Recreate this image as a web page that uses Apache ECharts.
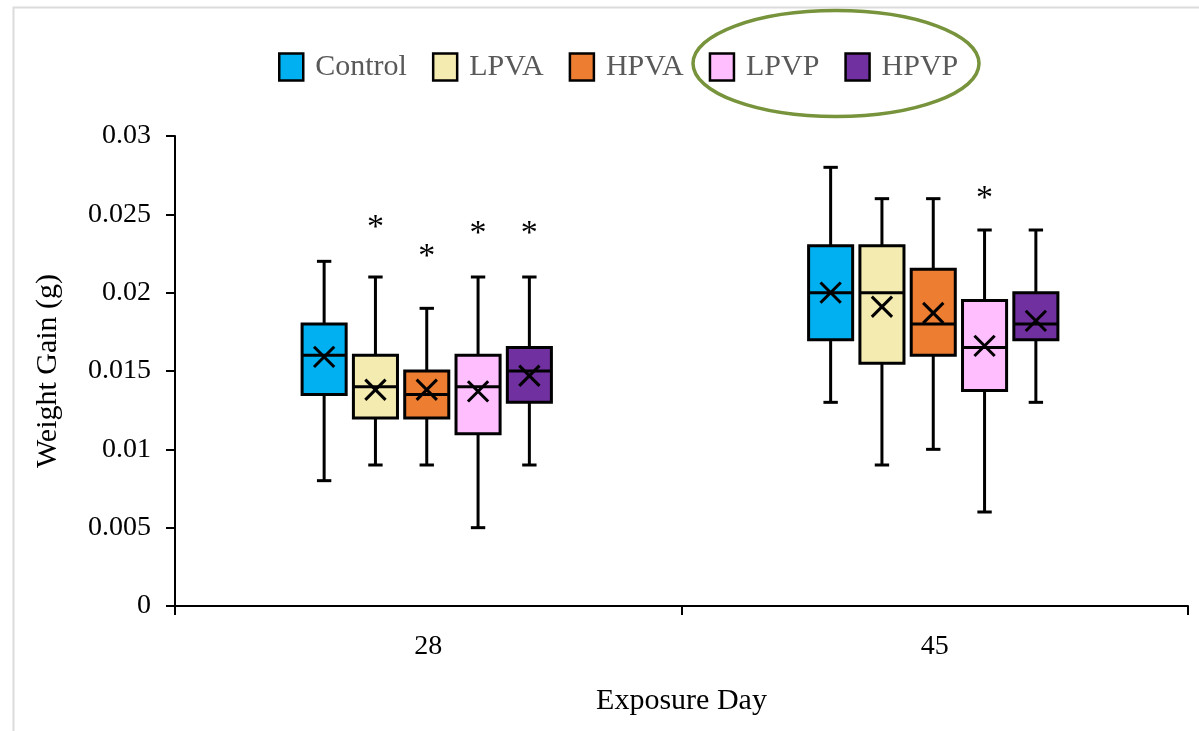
<!DOCTYPE html>
<html>
<head>
<meta charset="utf-8">
<script src="https://cdn.jsdelivr.net/npm/echarts@6/dist/echarts.min.js"></script>
<style>
html,body{margin:0;padding:0;background:#fff;}
#chart{width:1199px;height:731px;}
</style>
</head>
<body>
<div id="chart"></div>
<script>
// ---- data ----
const categories = ['28', '45'];
const seriesNames = ['Control', 'LPVA', 'HPVA', 'LPVP', 'HPVP'];
// [min, Q1, median, Q3, max] for day 28 and day 45
const controlBox = [[0.008, 0.0135, 0.016, 0.018, 0.022], [0.013, 0.017, 0.020, 0.023, 0.028]];
const lpvaBox    = [[0.009, 0.012, 0.014, 0.016, 0.021], [0.009, 0.0155, 0.020, 0.023, 0.026]];
const hpvaBox    = [[0.009, 0.012, 0.0135, 0.015, 0.019], [0.010, 0.016, 0.018, 0.0215, 0.026]];
const lpvpBox    = [[0.005, 0.011, 0.014, 0.016, 0.021], [0.006, 0.01375, 0.0165, 0.0195, 0.024]];
const hpvpBox    = [[0.009, 0.013, 0.015, 0.0165, 0.021], [0.013, 0.017, 0.018, 0.020, 0.024]];
// means (x markers)
const controlMean = [0.0159, 0.0200];
const lpvaMean    = [0.0138, 0.0191];
const hpvaMean    = [0.0138, 0.0187];
const lpvpMean    = [0.0137, 0.0166];
const hpvpMean    = [0.0147, 0.0182];
// significance asterisks (null = none)
const controlStar = [null, null];
const lpvaStar    = [0.0246, null];
const hpvaStar    = [0.0227, null];
const lpvpStar    = [0.0242, 0.0264];
const hpvpStar    = [0.0242, null];
// y axis
const yMin = 0, yMax = 0.03, yStep = 0.005;

const boxes = [controlBox, lpvaBox, hpvaBox, lpvpBox, hpvpBox];
const means = [controlMean, lpvaMean, hpvaMean, lpvpMean, hpvpMean];
const stars = [controlStar, lpvaStar, hpvaStar, lpvpStar, hpvpStar];
const colors = ['#00B0F0', '#F4EBB0', '#ED7D31', '#FFBFFF', '#7030A0'];

const FONT = '"Liberation Serif", "Times New Roman", serif';

function makeRender(s) {
  return function (params, api) {
    const ci = api.value(0);
    const band = api.size([1, 0])[0];
    const cx = api.coord([ci, 0])[0] + (s - 2) * band * 0.1013 - 1.5;
    const half = band * 0.0435;
    const cap = band * 0.0142;
    const mk = band * 0.02;
    const y = v => api.coord([ci, v])[1];
    const yMinP = y(api.value(1)), yQ1 = y(api.value(2)), yMed = y(api.value(3)),
          yQ3 = y(api.value(4)), yMaxP = y(api.value(5)), yMean = y(api.value(6));
    const ls = { stroke: '#000', lineWidth: 3, fill: null };
    const children = [
      { type: 'line', shape: { x1: cx, y1: yMaxP, x2: cx, y2: yQ3 }, style: ls },
      { type: 'line', shape: { x1: cx, y1: yQ1, x2: cx, y2: yMinP }, style: ls },
      { type: 'line', shape: { x1: cx - cap, y1: yMaxP, x2: cx + cap, y2: yMaxP }, style: ls },
      { type: 'line', shape: { x1: cx - cap, y1: yMinP, x2: cx + cap, y2: yMinP }, style: ls },
      { type: 'rect', shape: { x: cx - half, y: yQ3, width: half * 2, height: yQ1 - yQ3 },
        style: { fill: colors[s], stroke: '#000', lineWidth: 3 } },
      { type: 'line', shape: { x1: cx - half, y1: yMed, x2: cx + half, y2: yMed }, style: ls },
      { type: 'line', shape: { x1: cx - mk, y1: yMean - mk, x2: cx + mk, y2: yMean + mk }, style: ls },
      { type: 'line', shape: { x1: cx - mk, y1: yMean + mk, x2: cx + mk, y2: yMean - mk }, style: ls }
    ];
    const sv = stars[s][params.dataIndex];
    if (sv != null) {
      children.push({
        type: 'text',
        style: { text: '*', x: cx, y: y(sv) + 7, align: 'center', verticalAlign: 'middle',
                 fill: '#000', font: '34px ' + FONT }
      });
    }
    return { type: 'group', children: children };
  };
}

const series = seriesNames.map((name, s) => ({
  name: name,
  type: 'custom',
  xAxisIndex: 0,
  yAxisIndex: 0,
  itemStyle: { color: colors[s], borderColor: '#000', borderWidth: 2 },
  encode: { x: 0, y: [1, 2, 3, 4, 5, 6] },
  renderItem: makeRender(s),
  data: categories.map((c, i) => [i].concat(boxes[s][i], [means[s][i]])),
  z: 2
}));

const chart = echarts.init(document.getElementById('chart'), null, { renderer: 'canvas' });
chart.setOption({
  animation: false,
  backgroundColor: '#fff',
  textStyle: { fontFamily: FONT },
  graphic: [
    { type: 'rect', left: 11, top: 5, shape: { x: 0, y: 0, width: 1400, height: 900 },
      style: { fill: null, stroke: '#dcdcdc', lineWidth: 2 }, silent: true, z: -10 },
    { type: 'ellipse', shape: { cx: 836, cy: 63.5, rx: 143, ry: 53 },
      style: { fill: null, stroke: '#77933C', lineWidth: 3.5 }, silent: true, z: 10 }
  ],
  legend: {
    data: seriesNames,
    left: 273,
    top: 47,
    icon: 'rect',
    itemWidth: 24,
    itemHeight: 27,
    itemGap: 25,
    itemStyle: { borderColor: '#000', borderWidth: 2.5 },
    textStyle: { fontFamily: FONT, fontSize: 30, color: '#595959', padding: [0, 0, 0, 7] }
  },
  grid: { left: 175, right: 11, top: 136, bottom: 125, containLabel: false },
  xAxis: {
    type: 'category',
    data: categories,
    boundaryGap: true,
    axisLine: { lineStyle: { color: '#000', width: 2 } },
    axisTick: { show: true, alignWithLabel: false, length: 9, lineStyle: { color: '#000', width: 2 } },
    axisLabel: { color: '#000', fontSize: 28, fontFamily: FONT, margin: 27 },
    name: 'Exposure Day',
    nameLocation: 'middle',
    nameGap: 80,
    nameTextStyle: { color: '#000', fontSize: 30, fontFamily: FONT },
    splitLine: { show: false }
  },
  yAxis: {
    type: 'value',
    min: yMin,
    max: yMax,
    interval: yStep,
    axisLine: { show: true, lineStyle: { color: '#000', width: 2 } },
    axisTick: { show: true, length: 9, lineStyle: { color: '#000', width: 2 } },
    axisLabel: { color: '#000', fontSize: 28, fontFamily: FONT, margin: 24,
                 formatter: v => String(parseFloat(v.toFixed(3))) },
    splitLine: { show: false },
    name: 'Weight Gain (g)',
    nameLocation: 'middle',
    nameGap: 112,
    nameTextStyle: { color: '#000', fontSize: 30, fontFamily: FONT }
  },
  series: series
});
</script>
</body>
</html>
